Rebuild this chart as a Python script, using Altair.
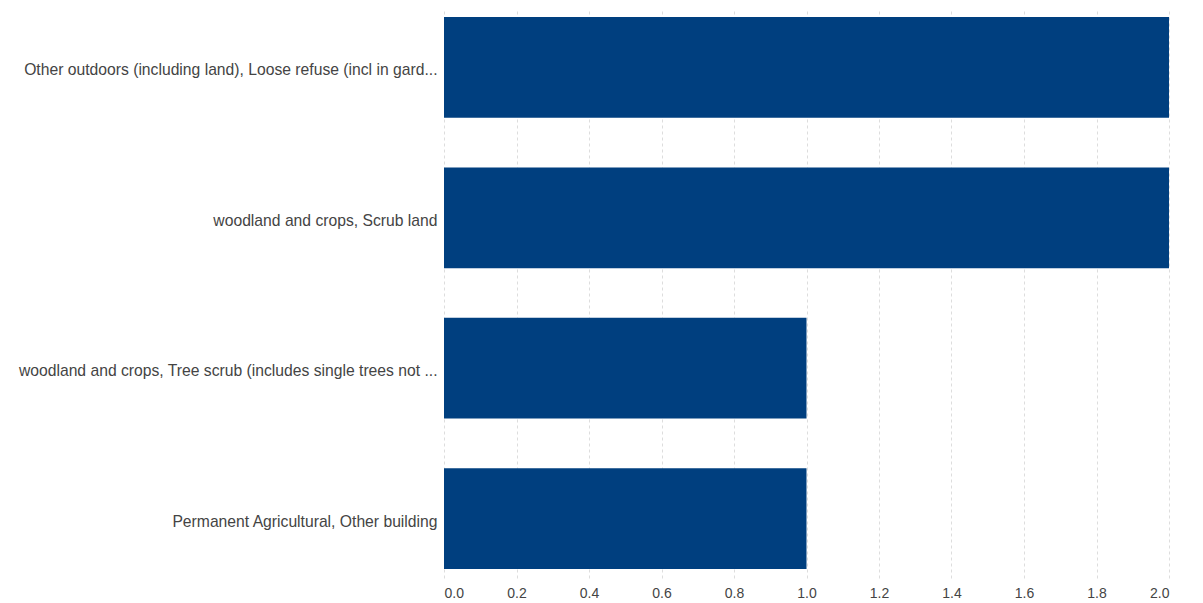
import altair as alt
import pandas as pd

categories = [
    "Other outdoors (including land), Loose refuse (incl in gard...",
    "woodland and crops, Scrub land",
    "woodland and crops, Tree scrub (includes single trees not ...",
    "Permanent Agricultural, Other building",
]
values = [2, 2, 1, 1]
x_ticks = [0.0, 0.2, 0.4, 0.6, 0.8, 1.0, 1.2, 1.4, 1.6, 1.8, 2.0]

df = pd.DataFrame({"category": categories, "value": values})

chart = alt.Chart(df).mark_bar(color="#003f7f").encode(
    x=alt.X("value:Q",
            scale=alt.Scale(domain=[0, 2], nice=False),
            axis=alt.Axis(values=x_ticks, format=".1f", title=None,
                          grid=True, gridDash=[3, 3], gridColor="#dddddd",
                          domain=False, ticks=False, labelPadding=8,
                          labelColor="#444444", labelFontSize=14,
                          labelFont="Liberation Sans")),
    y=alt.Y("category:N", sort=None,
            scale=alt.Scale(paddingInner=0.33, paddingOuter=0.06),
            axis=alt.Axis(title=None, domain=False, ticks=False,
                          labelPadding=7, labelLimit=500, labelOffset=3,
                          labelColor="#444444", labelFontSize=15.7,
                          labelFont="Liberation Sans")),
).properties(
    width=725, height=570,
    padding={"left": 10, "top": 0, "right": 20, "bottom": 5},
).configure_view(stroke=None)

chart.save("out.html", embed_options={"renderer": "svg", "actions": False})
